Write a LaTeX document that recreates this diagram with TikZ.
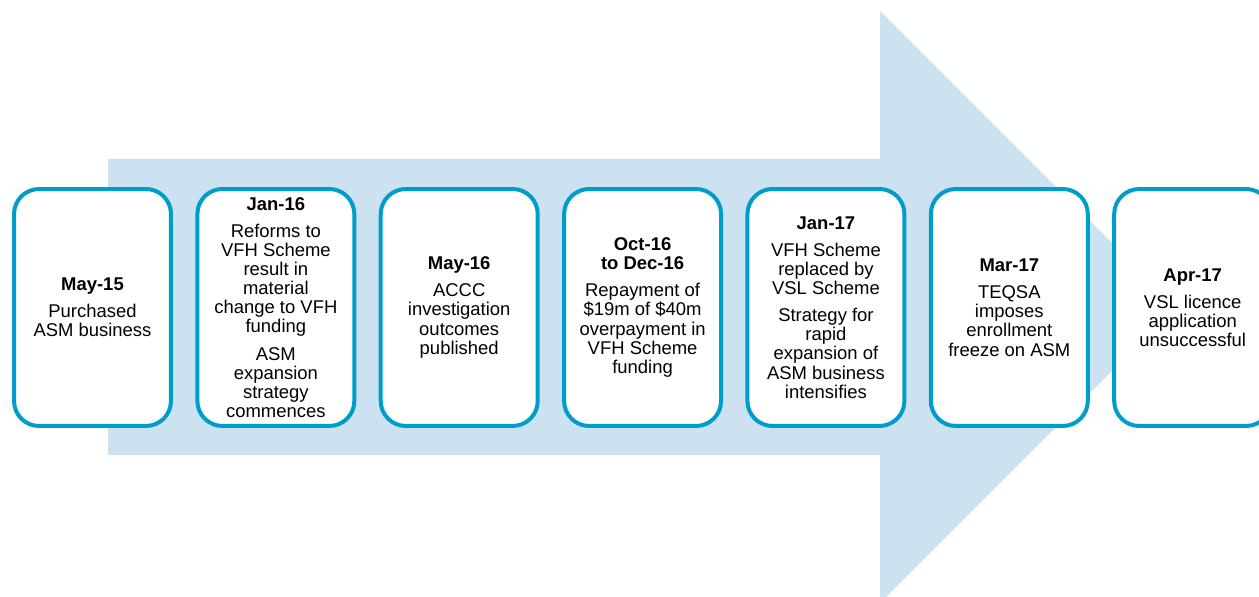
\documentclass[tikz,border=0pt]{standalone}
\usepackage{fontspec}
\setmainfont{Liberation Sans}
\usepackage{xcolor}
\usepackage{tikz}
\usetikzlibrary{positioning}

\definecolor{arrowblue}{RGB}{204,226,240}
\definecolor{boxblue}{RGB}{0,157,202}

\begin{document}
\begin{tikzpicture}[x=0.02cm, y=-0.02cm, node distance=0.528cm,
        event/.style={draw=boxblue, line width=0.08cm, fill=white, rounded corners=0.5cm,
                minimum width=3.14cm, minimum height=4.74cm, outer sep=0pt, inner sep=1pt,
                align=center, font=\fontsize{10.5}{10.9}\selectfont}]
        \useasboundingbox (0,0) rectangle (1259,597);
        \clip (0,0) rectangle (1259,597);

        % big arrow behind the timeline
        \fill[arrowblue] (108,159) -- (880,159) -- (880,11) -- (1176,307)
                -- (880,603) -- (880,455) -- (108,455) -- cycle;

        \node[event] (A) at (92.5,307.5) {\textbf{May-15}\\[4.5pt]Purchased\\ASM business};
        \node[event] (B) [right = of A] {\textbf{Jan-16}\\[4.5pt]Reforms to\\VFH Scheme\\result in\\material\\change to VFH\\funding\\[4.5pt]ASM\\expansion\\strategy\\commences};
        \node[event] (C) [right = of B] {\textbf{May-16}\\[4.5pt]ACCC\\investigation\\outcomes\\published};
        \node[event] (D) [right = of C] {\textbf{Oct-16}\\\textbf{to Dec-16}\\[4.5pt]Repayment of\\\$19m of \$40m\\overpayment in\\VFH Scheme\\funding};
        \node[event] (E) [right = of D] {\textbf{Jan-17}\\[4.5pt]VFH Scheme\\replaced by\\VSL Scheme\\[4.5pt]Strategy for\\rapid\\expansion of\\ASM business\\intensifies};
        \node[event] (F) [right = of E] {\textbf{Mar-17}\\[4.5pt]TEQSA\\imposes\\enrollment\\freeze on ASM};
        \node[event] (G) [right = of F] {\textbf{Apr-17}\\[4.5pt]VSL licence\\application\\unsuccessful};
\end{tikzpicture}
\end{document}
